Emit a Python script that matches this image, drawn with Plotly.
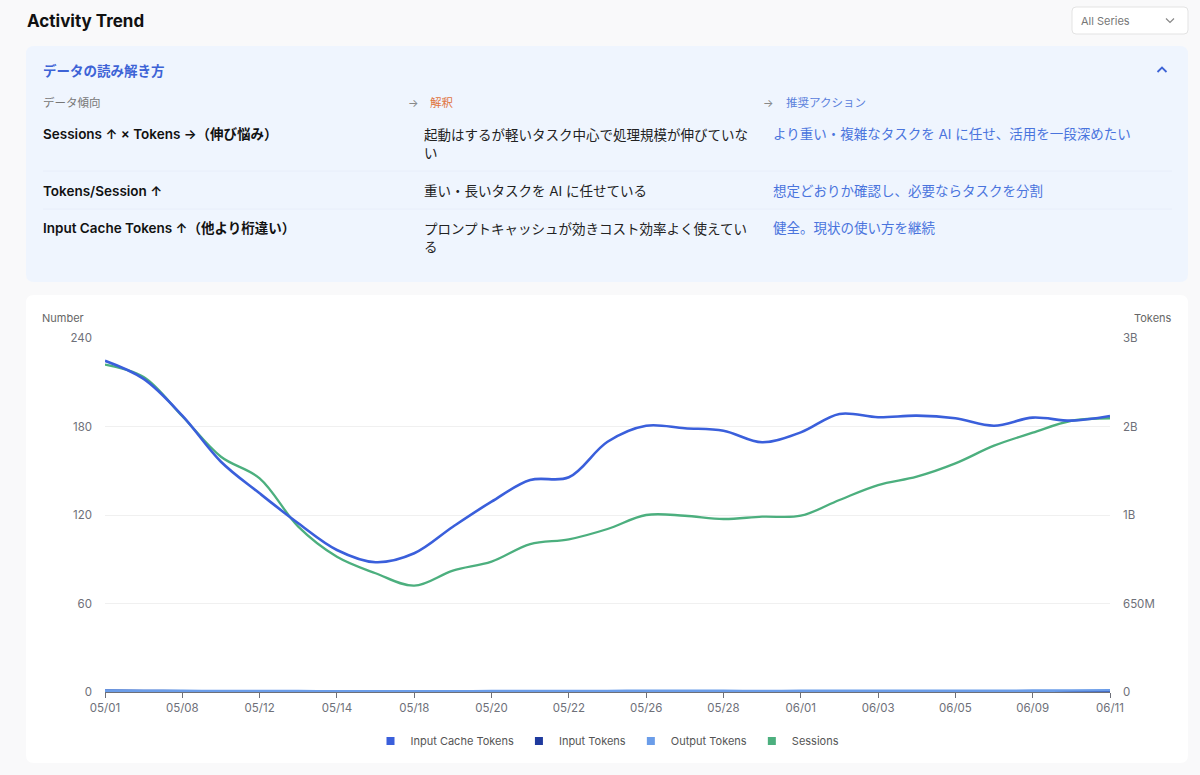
import plotly.graph_objects as go

# Data
dates = ["05/01", "05/05", "05/08", "05/10", "05/12", "05/13", "05/14", "05/16", "05/18",
         "05/19", "05/20", "05/21", "05/22", "05/25", "05/26", "05/27", "05/28", "05/30",
         "06/01", "06/02", "06/03", "06/04", "06/05", "06/07", "06/09", "06/10", "06/11"]
tick_labels = ["05/01", "05/08", "05/12", "05/14", "05/18", "05/20", "05/22",
               "05/26", "05/28", "06/01", "06/03", "06/05", "06/09", "06/11"]

sessions = [222, 213.6, 187, 159.5, 144.9, 112.1, 91.7, 80.5, 72.1, 82.3, 88.4, 100.3, 103.5,
            110.5, 120, 119.5, 117.3, 118.9, 119.5, 130.2, 140.3, 146, 155, 167, 175.8, 183.9, 185.6]
input_cache_tokens = [2.433e9, 2.30e9, 2.03e9, 1.691e9, 1.459e9, 1.239e9, 1.043e9, 0.953e9, 1.019e9,
                      1.214e9, 1.398e9, 1.557e9, 1.577e9, 1.838e9, 1.956e9, 1.937e9, 1.919e9, 1.834e9,
                      1.907e9, 2.042e9, 2.018e9, 2.03e9, 2.01e9, 1.956e9, 2.015e9, 1.993e9, 2.027e9]
input_tokens = [11.5e6, 9.2e6, 6.8e6, 5.1e6, 4.6e6, 3.9e6, 3.2e6, 2.8e6, 2.5e6, 2.9e6, 3.4e6, 3.1e6,
                2.7e6, 3.6e6, 4.0e6, 3.3e6, 2.9e6, 3.1e6, 3.8e6, 4.2e6, 3.5e6, 3.7e6, 3.2e6, 2.9e6,
                3.6e6, 4.1e6, 4.4e6]
output_tokens = [9.8e6, 9.1e6, 8.4e6, 7.2e6, 6.5e6, 6.1e6, 5.4e6, 5.0e6, 4.8e6, 5.6e6, 6.3e6, 6.8e6,
                 6.9e6, 7.8e6, 8.5e6, 8.2e6, 7.9e6, 7.6e6, 8.4e6, 9.3e6, 9.1e6, 9.6e6, 9.0e6, 8.7e6,
                 9.9e6, 10.8e6, 12.4e6]

left_ticks = [0, 60, 120, 180, 240]
right_ticks = [0, 0.65e9, 1.3e9, 1.95e9, 2.6e9]
right_tick_text = ["0", "650M", "1B", "2B", "3B"]

rows = [
    ("Sessions ↑ × Tokens →（伸び悩み）", "起動はするが軽いタスク中心で処理規模が伸びていな<br>い",
     "より重い・複雑なタスクを AI に任せ、活用を一段深めたい"),
    ("Tokens/Session ↑", "重い・長いタスクを AI に任せている", "想定どおりか確認し、必要ならタスクを分割"),
    ("Input Cache Tokens ↑（他より桁違い）", "プロンプトキャッシュが効きコスト効率よく使えてい<br>る",
     "健全。現状の使い方を継続"),
]

FONT = "Inter, 'Noto Sans CJK JP', sans-serif"
C_CACHE, C_INPUT, C_OUTPUT, C_SESS = "#3a5fdb", "#1f3a9e", "#6b9de9", "#4caf7e"

# plot area in page pixels
L, R, T, B = 105, 1110, 338, 692


def px(x):
    return (x - L) / (R - L)


def py(y):
    return (B - y) / (B - T)


def rounded_rect(x0, y0, x1, y1, r):
    pts = [f"M{px(x0 + r)},{py(y0)}", f"L{px(x1 - r)},{py(y0)}",
           f"Q{px(x1)},{py(y0)} {px(x1)},{py(y0 + r)}", f"L{px(x1)},{py(y1 - r)}",
           f"Q{px(x1)},{py(y1)} {px(x1 - r)},{py(y1)}", f"L{px(x0 + r)},{py(y1)}",
           f"Q{px(x0)},{py(y1)} {px(x0)},{py(y1 - r)}", f"L{px(x0)},{py(y0 + r)}",
           f"Q{px(x0)},{py(y0)} {px(x0 + r)},{py(y0)}", "Z"]
    return " ".join(pts)


fig = go.Figure()

series = [
    ("Input Cache Tokens", input_cache_tokens, C_CACHE, 2.6, "y2"),
    ("Input Tokens", input_tokens, C_INPUT, 2.2, "y2"),
    ("Output Tokens", output_tokens, C_OUTPUT, 2.6, "y2"),
    ("Sessions", sessions, C_SESS, 2.3, "y"),
]
for name, vals, color, width, yax in series:
    fig.add_trace(go.Scatter(
        x=dates, y=vals, mode="lines", name=name, yaxis=yax, legendgroup=name,
        showlegend=False, line=dict(color=color, width=width, shape="spline", smoothing=1.0),
    ))
# legend entries with box icons
for name, vals, color, width, yax in series:
    fig.add_trace(go.Scatter(
        x=[None], y=[None], mode="markers", name=name, legendgroup=name,
        marker=dict(symbol="square", size=8, color=color),
    ))

P = dict(xref="paper", yref="paper")
shapes = [
    dict(type="path", path=rounded_rect(26, 46, 1188, 282, 8), fillcolor="#eff5fe",
         line=dict(width=0), layer="below", **P),
    dict(type="path", path=rounded_rect(26, 295, 1188, 763, 8), fillcolor="#ffffff",
         line=dict(width=0), layer="below", **P),
    dict(type="path", path=rounded_rect(1072, 7, 1188, 34, 4), fillcolor="#ffffff",
         line=dict(color="#e3e3e3", width=1), layer="below", **P),
    dict(type="path", path=f"M{px(1166)},{py(18.5)} L{px(1170)},{py(22.5)} L{px(1174)},{py(18.5)}",
         line=dict(color="#888888", width=1.2), **P),
    dict(type="path", path=f"M{px(1157.5)},{py(72)} L{px(1162)},{py(67.5)} L{px(1166.5)},{py(72)}",
         line=dict(color="#3d63d6", width=1.8), **P),
]
for sy in (171, 209):
    shapes.append(dict(type="line", x0=px(43), x1=px(1172), y0=py(sy), y1=py(sy),
                       line=dict(color="#e8eefa", width=1), layer="below", **P))

annotations = []


def text(x, y, s, size, color, weight=400, anchor="left"):
    annotations.append(dict(x=px(x), y=py(y), xref="paper", yref="paper", text=s,
                            showarrow=False, xanchor=anchor, yanchor="middle", align="left",
                            font=dict(family=FONT, size=size, color=color, weight=weight)))


text(25, 21, "Activity Trend", 17, "#111111", 700)
text(1079, 21, "All Series", 11, "#777777")
text(41, 71, "データの読み解き方", 13.5, "#3d63d6", 600)
text(41, 103, "データ傾向", 11.5, "#777777")
text(406, 103, "→", 11, "#888888")
text(428, 103, "解釈", 11.5, "#e0743f")
text(761, 103, "→", 11, "#888888")
text(784, 103, "推奨アクション", 11.5, "#5a80dc")
row_y = [134, 191, 228]
for (a, b, c), ry in zip(rows, row_y):
    text(41, ry, a, 13.5, "#111111", 600)
    if "<br>" in b:
        annotations.append(dict(x=px(422), y=py(ry - 9.5), xref="paper", yref="paper", text=b,
                                showarrow=False, xanchor="left", yanchor="top", align="left",
                                font=dict(family=FONT, size=13.5, color="#222222")))
    else:
        text(422, ry, b, 13.5, "#222222")
    text(771, ry, c, 13.5, "#4a74dd")
text(63, 318, "Number", 11, "#666666", anchor="center")
text(1153, 318, "Tokens", 11, "#666666", anchor="center")

fig.update_layout(
    width=1200, height=775,
    margin=dict(l=L, r=1200 - R, t=T, b=775 - B),
    paper_bgcolor="#f9f9fa", plot_bgcolor="rgba(0,0,0,0)",
    font=dict(family=FONT, size=11, color="#6e7079"),
    xaxis=dict(type="category", categoryorder="array", categoryarray=dates,
               range=[0, len(dates) - 1], tickvals=tick_labels, ticktext=tick_labels,
               ticks="outside", ticklen=5, tickcolor="#6e7079", showline=True,
               linecolor="#6e7079", showgrid=False, zeroline=False,
               tickfont=dict(size=11.5, color="#6e7079")),
    yaxis=dict(range=[0, 240], tickvals=left_ticks, showgrid=True, gridcolor="#f0f0f0",
               zeroline=False, showline=False, ticklabelstandoff=12,
               tickfont=dict(size=11.5, color="#6e7079")),
    yaxis2=dict(range=[0, 2.6e9], overlaying="y", side="right", tickvals=right_ticks,
                ticktext=right_tick_text, showgrid=False, zeroline=False, showline=False,
                ticklabelstandoff=12, tickfont=dict(size=11.5, color="#6e7079")),
    legend=dict(orientation="h", x=0.5, xanchor="center", y=py(741), yanchor="middle",
                font=dict(size=11, color="#555555"), itemwidth=30, bgcolor="rgba(0,0,0,0)",
                entrywidth=0, tracegroupgap=0),
    shapes=shapes,
    annotations=annotations,
    showlegend=True,
)

fig.write_html("out.html", config={"displayModeBar": False},
               post_script="document.body.style.margin='0';")
